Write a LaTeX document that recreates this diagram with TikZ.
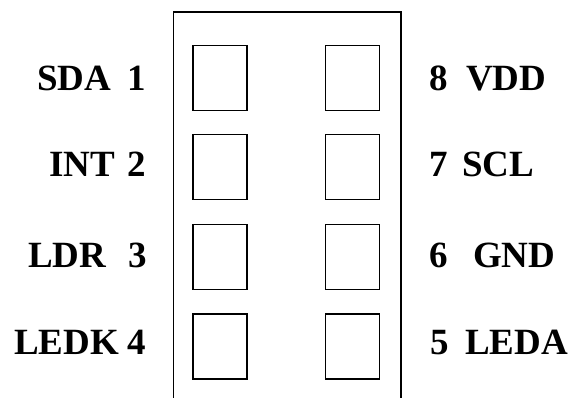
\documentclass[tikz,border=0pt]{standalone}
\usepackage{fontspec}
\setmainfont{Liberation Serif}
\begin{document}
\begin{tikzpicture}[x=1pt,y=-1pt,
  pad/.style={draw,line width=1.4pt,minimum width=54pt,minimum height=65pt,inner sep=0pt,anchor=north west},
  lbl/.style={inner sep=0pt,font=\fontsize{37}{37}\selectfont\bfseries},
  lw/.style={lbl,anchor=base west},
  le/.style={lbl,anchor=base east}]
\useasboundingbox (0,0) rectangle (571,398);
% body outline, open at the bottom
\coordinate (bl) at (173.5,398);
\coordinate (tl) at (173.5,12);
\coordinate (tr) at (400.7,12);
\coordinate (br) at (400.7,398);
\draw[line width=1.6pt] (bl) -- (tl) -- (tr) -- (br);
% pads
\node[pad] (p1) at (192.3,44.7) {};
\node[pad] (p2) at (192.3,133.6) {};
\node[pad] (p3) at (192.3,223.7) {};
\node[pad] (p4) at (192.3,313.3) {};
\node[pad] (p8) at (325,44.7) {};
\node[pad] (p7) at (325,133.6) {};
\node[pad] (p6) at (325,223.7) {};
\node[pad] (p5) at (325,313.3) {};
% left labels
\node[lw] (sda) at (37,90.5) {SDA};
\node[le] (n1) at (146,90.5) {1};
\node[lw] (int) at (49,177) {INT};
\node[le] (n2) at (146,177) {2};
\node[lw] (ldr) at (28,268) {LDR};
\node[le] (n3) at (147,268) {3};
\node[lw] (ledk) at (14,355) {LEDK};
\node[le] (n4) at (146,355) {4};
% right labels
\node[lw] (n8) at (429,90.5) {8};
\node[lw] (vdd) at (466,90.5) {VDD};
\node[lw] (n7) at (429,177) {7};
\node[lw] (scl) at (462,177) {SCL};
\node[lw] (n6) at (429,268) {6};
\node[lw] (gnd) at (473,268) {GND};
\node[lw] (n5) at (430,355) {5};
\node[lw] (leda) at (465,355) {LEDA};
\end{tikzpicture}
\end{document}
